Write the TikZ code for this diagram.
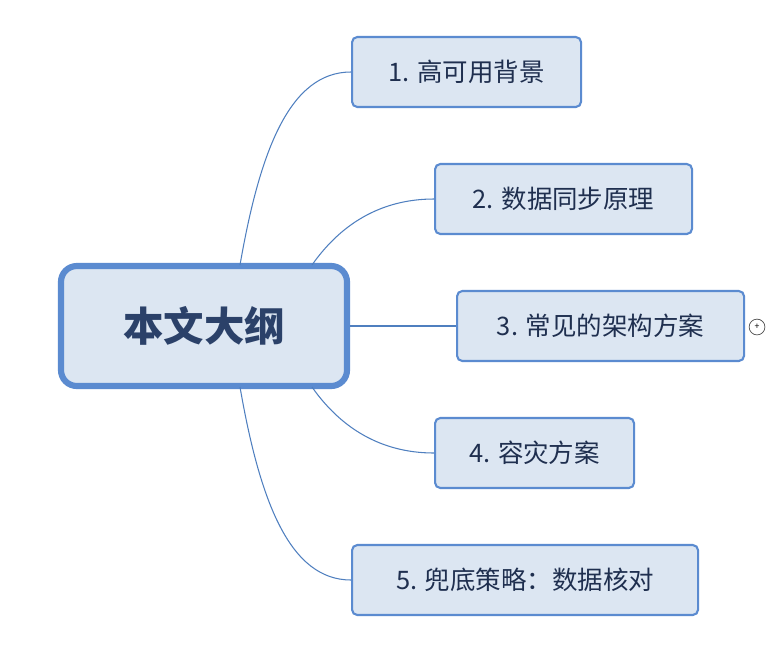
\documentclass[tikz,border=0pt]{standalone}
\usepackage{fontspec}
\setmainfont{Noto Sans CJK SC}
\definecolor{boxfill}{HTML}{DCE6F2}
\definecolor{boxline}{HTML}{5B8BD0}
\definecolor{txt}{HTML}{1F2F4F}
\definecolor{wire}{HTML}{4F7FBF}
\begin{document}
\begin{tikzpicture}[x=0.02cm,y=-0.02cm,
  topic/.style={draw=boxline, line width=1.2pt, fill=boxfill, rounded corners=3pt, minimum height=70*0.02cm, font=\fontsize{14.5}{16}\selectfont, text=txt, anchor=west, inner xsep=8pt},
  link/.style={draw=wire, line width=0.6pt}]
\useasboundingbox (0,0) rectangle (776,646);

\node[draw=boxline, line width=3.5pt, fill=boxfill, rounded corners=9pt, minimum width=286*0.02cm, minimum height=120*0.02cm, font=\fontsize{23}{26}\selectfont\bfseries, text=txt!80!boxline] (main) at (204,326) {本文大纲};

\node[topic, minimum width=229*0.02cm] (t1) at (351,72) {1. 高可用背景};
\node[topic, minimum width=257*0.02cm] (t2) at (434,199) {2. 数据同步原理};
\node[topic, minimum width=287*0.02cm] (t3) at (456,326) {3. 常见的架构方案};
\node[topic, minimum width=199*0.02cm] (t4) at (434,453) {4. 容灾方案};
\node[topic, minimum width=346*0.02cm] (t5) at (351,580) {5. 兜底策略：数据核对};

\draw[link] (240,265) .. controls (260,150) and (290,72) .. (t1.west);
\draw[link] (312,265) .. controls (340,225) and (380,199) .. (t2.west);
\draw[link] (main.east) -- (t3.west);
\draw[link] (312,387) .. controls (340,427) and (380,453) .. (t4.west);
\draw[link] (240,387) .. controls (260,502) and (290,580) .. (t5.west);

\node[draw=black!70, circle, inner sep=0pt, minimum size=9pt, line width=0.4pt, font=\tiny] (plus) at (757,327) {+};
\end{tikzpicture}
\end{document}
